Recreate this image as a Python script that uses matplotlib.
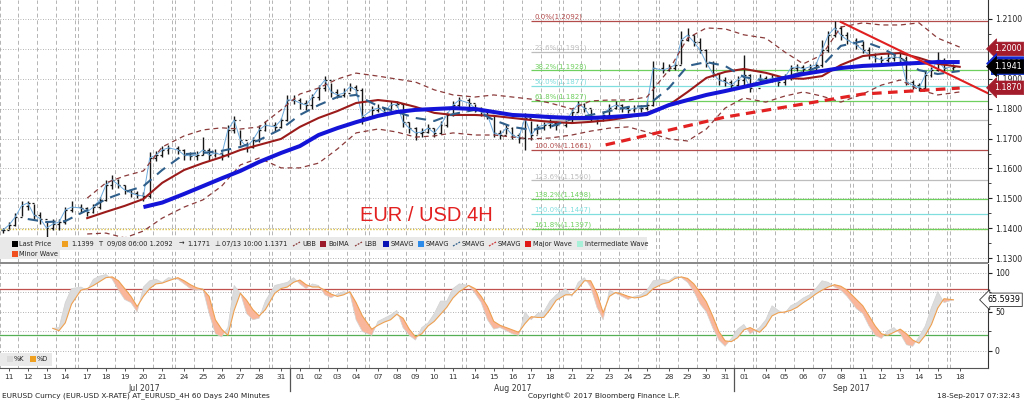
import numpy as np
import pandas as pd
import matplotlib
matplotlib.use('Agg')
import matplotlib.pyplot as plt
from matplotlib.patches import Rectangle
from matplotlib.lines import Line2D
from matplotlib.transforms import blended_transform_factory

W, H = 1024, 401

# trading days on the axis (4H bars, three readings per day)
dates = pd.bdate_range('2017-07-11', '2017-09-18')
day_labels = [d.strftime('%d') for d in dates]
months = ['Jul 2017', 'Aug 2017', 'Sep 2017']

# price readings, 3 per day (last one is the Sunday-open bar of Sep 18)
close = [
    1.1394, 1.1411, 1.1438,  1.1475, 1.1485, 1.1444,  1.1432, 1.1401, 1.1414,  1.1421, 1.1461, 1.1471,
    1.1468, 1.1455, 1.1471,  1.1495, 1.1545, 1.1562,  1.1545, 1.1528, 1.1518,  1.1511, 1.1508, 1.1635,
    1.1645, 1.1662, 1.1669,  1.1662, 1.1645, 1.1642,  1.1645, 1.1662, 1.1645,  1.1652, 1.1645, 1.1729,
    1.1762, 1.1695, 1.1672,  1.1695, 1.1729, 1.1745,  1.1739, 1.1762, 1.1829,  1.1829, 1.1819, 1.1812,
    1.1839, 1.1869, 1.1896,  1.1856, 1.1846, 1.1852,  1.1873, 1.1862, 1.1772,  1.1796, 1.1802, 1.1789,
    1.1812, 1.1816, 1.1756,  1.1735, 1.1719, 1.1722,  1.1735, 1.1719, 1.1745,  1.1779, 1.1812, 1.1829,
    1.1819, 1.1802, 1.1789,  1.1779, 1.1719, 1.1712,  1.1735, 1.1712, 1.1702,  1.1769, 1.1712, 1.1739,
    1.1745, 1.1752, 1.1745,  1.1756, 1.1789, 1.1816,  1.1802, 1.1772, 1.1762,  1.1779, 1.1802, 1.1812,
    1.1802, 1.1796, 1.1802,  1.1802, 1.1812, 1.1936,  1.1929, 1.1936, 1.1946,  1.2030, 1.2046, 1.2023,
    1.1996, 1.1953, 1.1919,  1.1896, 1.1889, 1.1879,  1.1896, 1.1913, 1.1869,  1.1903, 1.1896, 1.1903,
    1.1889, 1.1903, 1.1936,  1.1940, 1.1933, 1.1940,  1.1946, 1.1996, 1.2046,  1.2070, 1.2046, 1.2030,
    1.2013, 1.1996, 1.1980,  1.1970, 1.1963, 1.1970,  1.1973, 1.1970, 1.1889,  1.1879, 1.1869, 1.1913,
    1.1929, 1.1963, 1.1935,  1.1941]
high = [
    1.1400, 1.1420, 1.1450,  1.1490, 1.1492, 1.1480,  1.1455, 1.1425, 1.1430,  1.1430, 1.1470, 1.1490,
    1.1482, 1.1470, 1.1480,  1.1505, 1.1560, 1.1577,  1.1565, 1.1545, 1.1530,  1.1525, 1.1520, 1.1655,
    1.1660, 1.1675, 1.1680,  1.1675, 1.1665, 1.1655,  1.1660, 1.1705, 1.1670,  1.1665, 1.1660, 1.1745,
    1.1777, 1.1730, 1.1690,  1.1705, 1.1745, 1.1760,  1.1755, 1.1770, 1.1845,  1.1845, 1.1835, 1.1830,
    1.1850, 1.1880, 1.1910,  1.1885, 1.1865, 1.1870,  1.1885, 1.1880, 1.1870,  1.1810, 1.1815, 1.1805,
    1.1825, 1.1825, 1.1820,  1.1755, 1.1740, 1.1735,  1.1750, 1.1735, 1.1760,  1.1790, 1.1825, 1.1840,
    1.1835, 1.1815, 1.1805,  1.1795, 1.1780, 1.1730,  1.1750, 1.1740, 1.1720,  1.1785, 1.1760, 1.1750,
    1.1755, 1.1765, 1.1760,  1.1770, 1.1800, 1.1825,  1.1820, 1.1800, 1.1775,  1.1790, 1.1815, 1.1825,
    1.1815, 1.1808, 1.1812,  1.1812, 1.1825, 1.1960,  1.1955, 1.1950, 1.1955,  1.2060, 1.2070, 1.2045,
    1.2035, 1.2000, 1.1960,  1.1920, 1.1905, 1.1895,  1.1910, 1.1980, 1.1915,  1.1915, 1.1910, 1.1915,
    1.1900, 1.1915, 1.1945,  1.1950, 1.1945, 1.1950,  1.1955, 1.2030, 1.2060,  1.2092, 1.2075, 1.2055,
    1.2035, 1.2025, 1.2005,  1.1985, 1.1975, 1.1985,  1.1985, 1.1985, 1.1975,  1.1895, 1.1885, 1.1925,
    1.1940, 1.1988, 1.1970,  1.1950]
low = [
    1.1385, 1.1398, 1.1408,  1.1440, 1.1460, 1.1430,  1.1415, 1.1371, 1.1395,  1.1395, 1.1415, 1.1455,
    1.1455, 1.1440, 1.1450,  1.1465, 1.1490, 1.1530,  1.1535, 1.1515, 1.1505,  1.1500, 1.1490, 1.1500,
    1.1625, 1.1640, 1.1650,  1.1650, 1.1630, 1.1630,  1.1630, 1.1645, 1.1630,  1.1640, 1.1630, 1.1640,
    1.1720, 1.1680, 1.1655,  1.1670, 1.1690, 1.1725,  1.1725, 1.1735, 1.1760,  1.1815, 1.1800, 1.1795,
    1.1800, 1.1830, 1.1860,  1.1840, 1.1835, 1.1840,  1.1860, 1.1850, 1.1750,  1.1770, 1.1790, 1.1780,
    1.1795, 1.1805, 1.1740,  1.1720, 1.1695, 1.1705,  1.1720, 1.1705, 1.1715,  1.1740, 1.1775, 1.1800,
    1.1805, 1.1790, 1.1775,  1.1765, 1.1705, 1.1700,  1.1715, 1.1700, 1.1685,  1.1661, 1.1695, 1.1715,
    1.1730, 1.1735, 1.1730,  1.1740, 1.1755, 1.1790,  1.1790, 1.1760, 1.1750,  1.1760, 1.1775, 1.1800,
    1.1790, 1.1785, 1.1790,  1.1790, 1.1795, 1.1810,  1.1920, 1.1925, 1.1930,  1.1950, 1.2025, 1.2010,
    1.1985, 1.1940, 1.1905,  1.1880, 1.1875, 1.1865,  1.1870, 1.1880, 1.1855,  1.1890, 1.1885, 1.1890,
    1.1875, 1.1880, 1.1895,  1.1925, 1.1920, 1.1928,  1.1930, 1.1940, 1.1990,  1.2040, 1.2030, 1.2015,
    1.2000, 1.1985, 1.1965,  1.1955, 1.1950, 1.1955,  1.1960, 1.1955, 1.1880,  1.1865, 1.1858, 1.1865,
    1.1905, 1.1925, 1.1925,  1.1930]

nan = np.nan
# indicator lines, one reading per day
sma_slow = [nan] * 7 + [
    1.1471, 1.1486, 1.1515, 1.1541, 1.1567, 1.1592, 1.1622, 1.1652, 1.1675, 1.1712, 1.1735, 1.1755,
    1.1776, 1.1789, 1.1796, 1.1799, 1.1802, 1.1799, 1.1789, 1.1779, 1.1776, 1.1772, 1.1769, 1.1769,
    1.1772, 1.1776, 1.1782, 1.1812, 1.1829, 1.1846, 1.1859, 1.1873, 1.1889, 1.1903, 1.1916, 1.1926,
    1.1936, 1.1943, 1.1946, 1.1950, 1.1953, 1.1956, 1.1956]
bol_ma = [nan] * 4 + [
    1.1434, 1.1455, 1.1475, 1.1498, 1.1552, 1.1595, 1.1618, 1.1638, 1.1662, 1.1679, 1.1699, 1.1739,
    1.1769, 1.1792, 1.1819, 1.1829, 1.1822, 1.1806, 1.1786, 1.1779, 1.1779, 1.1776, 1.1769, 1.1762,
    1.1756, 1.1752, 1.1756, 1.1762, 1.1772, 1.1786, 1.1812, 1.1856, 1.1903, 1.1923, 1.1933, 1.1920,
    1.1903, 1.1900, 1.1909, 1.1946, 1.1976, 1.1983, 1.1986, 1.1970, 1.1950, 1.1940]
sma_mid = [nan] + [
    1.1431, 1.1421, 1.1424, 1.1461, 1.1498, 1.1521, 1.1541, 1.1595, 1.1648, 1.1652, 1.1659, 1.1672,
    1.1695, 1.1732, 1.1779, 1.1812, 1.1839, 1.1846, 1.1809, 1.1789, 1.1769, 1.1759, 1.1782, 1.1796,
    1.1762, 1.1739, 1.1729, 1.1739, 1.1766, 1.1779, 1.1792, 1.1806, 1.1809, 1.1869, 1.1943, 1.1956,
    1.1943, 1.1906, 1.1893, 1.1906, 1.1923, 1.1943, 1.2010, 1.2026, 1.2003, 1.1970, 1.1929, 1.1916,
    1.1926]
upper_bb = [nan] * 4 + [
    1.1501, 1.1552, 1.1575, 1.1592, 1.1672, 1.1709, 1.1729, 1.1736, 1.1732, 1.1739, 1.1796, 1.1849,
    1.1869, 1.1899, 1.1919, 1.1909, 1.1899, 1.1889, 1.1863, 1.1846, 1.1839, 1.1846, 1.1839, 1.1832,
    1.1819, 1.1799, 1.1826, 1.1829, 1.1829, 1.1839, 1.1929, 1.2036, 1.2070, 1.2067, 1.2047, 1.2036,
    1.1990, 1.1950, 1.1980, 1.2073, 1.2087, 1.2080, 1.2080, 1.2087, 1.2036, 1.2006]
lower_bb = [nan] * 4 + [
    1.1381, 1.1384, 1.1368, 1.1391, 1.1434, 1.1471, 1.1495, 1.1541, 1.1612, 1.1635, 1.1602, 1.1602,
    1.1618, 1.1665, 1.1719, 1.1732, 1.1722, 1.1705, 1.1709, 1.1719, 1.1712, 1.1712, 1.1705, 1.1699,
    1.1702, 1.1712, 1.1725, 1.1735, 1.1739, 1.1722, 1.1699, 1.1692, 1.1732, 1.1802, 1.1836, 1.1822,
    1.1842, 1.1856, 1.1842, 1.1822, 1.1849, 1.1879, 1.1896, 1.1863, 1.1846, 1.1856]

# wave / trend lines (day index, price)
major_wave = [(31, 1.1679), (37, 1.1772), (44, 1.1849), (49, 1.1869)]
trend_line = [(43, 1.2090), (48, 1.1933)]

# fibonacci retracement, Aug 17 low to Sep 08 high
fib_pct = ['0.0%', '23.6%', '38.2%', '50.0%', '61.8%', '76.4%', '100.0%', '123.6%', '138.2%', '150.0%', '161.8%']
fib_price = [1.2092, 1.1991, 1.1928, 1.1877, 1.1827, 1.1763, 1.1661, 1.1560, 1.1498, 1.1447, 1.1397]
fib_color = ['#b34b4b', '#bdbdbd', '#6fcf5f', '#80dede', '#6fcf5f', '#bdbdbd', '#b34b4b',
             '#bdbdbd', '#6fcf5f', '#80dede', '#6fcf5f']
fib_start_day = 27

# last values shown in the right hand boxes
last_boxes = [(1.2000, '#a21c2c'), (1.1870, '#a21c2c'), (1.1951, '#1428d0'), (1.1941, '#000000')]

# stochastic, 3 readings per day
stoch_d = [nan] * 8 + [
    29, 26, 36, 60, 78, 80, 84, 89, 94, 95, 90, 80, 70, 57, 70, 80, 86, 87, 90, 94, 90, 85,
    81, 79, 70, 40, 28, 20, 52, 74, 65, 53, 45, 53, 74, 80, 82, 88, 91, 85, 82, 82, 78, 73, 70, 72,
    76, 62, 45, 28, 33, 37, 40, 47, 42, 28, 18, 22, 32, 38, 47, 56, 68, 76, 84, 80, 70, 57, 38, 33,
    30, 27, 24, 35, 44, 43, 43, 53, 65, 72, 72, 80, 90, 90, 74, 49, 70, 75, 73, 70, 68, 69, 72, 80,
    86, 88, 93, 95, 93, 86, 75, 63, 45, 25, 13, 12, 17, 27, 30, 24, 32, 45, 49, 50, 52, 56, 62, 67,
    73, 78, 82, 85, 83, 78, 66, 58, 45, 32, 22, 20, 24, 28, 22, 14, 10, 20, 34, 55, 67, 65.5939]
stoch_k = [nan] * 8 + [
    29, 30, 62, 80, 82, 78, 92, 96, 98, 92, 78, 66, 62, 50, 82, 90, 92, 88, 94, 92, 86, 80,
    78, 80, 48, 22, 18, 30, 84, 74, 48, 40, 42, 64, 84, 86, 88, 94, 86, 80, 86, 84, 72, 68, 73, 76,
    74, 40, 25, 20, 38, 42, 46, 52, 30, 20, 14, 30, 36, 48, 64, 64, 80, 86, 84, 74, 62, 40, 28, 30,
    26, 22, 20, 50, 40, 48, 50, 64, 72, 80, 70, 88, 94, 82, 56, 40, 78, 74, 70, 66, 70, 72, 78, 90,
    92, 90, 96, 94, 88, 76, 60, 50, 30, 14, 6, 16, 28, 34, 22, 30, 40, 58, 52, 48, 58, 62, 68, 72,
    80, 90, 88, 82, 78, 70, 54, 48, 32, 20, 16, 26, 30, 22, 8, 6, 18, 32, 56, 76, 62, 65.6]

# ---- x scale: one unit per trading day, small extra gap at weekends
gap = np.r_[0, (np.diff(dates.values).astype('timedelta64[D]').astype(int) > 1).astype(int)]
pos = np.arange(len(dates)) + 0.17 * np.cumsum(gap)
slot = np.array([pos[i // 3] + (i % 3 - 1) / 3 for i in range(len(close))])
close, high, low = np.array(close), np.array(high), np.array(low)
stoch_k, stoch_d = np.array(stoch_k, float), np.array(stoch_d, float)


def fx(px):
    return px / W


def fy(py):
    return 1 - py / H


fig = plt.figure(figsize=(W / 100, H / 100), dpi=100)
ax = fig.add_axes([0, fy(262), fx(988), 262 / H])
ax2 = fig.add_axes([0, fy(368), fx(988), (368 - 264) / H])
x_lo, x_hi = -0.48, 52.21

for a in (ax, ax2):
    a.set_xlim(x_lo, x_hi)
    for s in ('left', 'top'):
        a.spines[s].set_visible(False)
    a.spines['right'].set_color('#333333')
    a.spines['right'].set_linewidth(0.8)
    # day grid, doubled at weekends
    for d in range(len(pos)):
        a.axvline(pos[d] - 0.5, color='#b4b4b4', lw=0.7, dashes=(4, 3), zorder=1)
        if d + 1 < len(pos) and gap[d + 1]:
            a.axvline(pos[d] + 0.5, color='#b4b4b4', lw=0.7, dashes=(4, 3), zorder=1)
ax.spines['bottom'].set_visible(False)
ax2.spines['bottom'].set_color('#555555')

# ---- price panel
ax.set_ylim(1.12873, 1.21635)
for v in np.arange(1.13, 1.2101, 0.01):
    ax.axhline(v, color='#9a9a9a', lw=0.6, ls=(0, (1, 2)), zorder=1)
ax.axhline(1.1399, color='#dcc24a', lw=1.0, ls=(0, (1, 1.2)), zorder=2)

fib_x0 = pos[fib_start_day]
for pct, p, c in zip(fib_pct, fib_price, fib_color):
    ax.hlines(p, fib_x0, x_hi, color=c, lw=0.9, zorder=2)
    ax.text(fib_x0 + 0.15, p + 0.0003, f'{pct}({p:.4f})', color=c, fontsize=5,
            va='bottom', ha='left', zorder=2)

ax.plot(pos, upper_bb, color='#8b3a3a', lw=0.9, dashes=(4, 3), zorder=4)
ax.plot(pos, lower_bb, color='#8b3a3a', lw=0.9, dashes=(4, 3), zorder=4)

opens = np.r_[close[0], close[:-1]]
ax.vlines(slot, low, high, color='#151515', lw=1.0, zorder=3)
ax.hlines(close, slot, slot + 0.1, color='#151515', lw=0.9, zorder=3)
ax.hlines(opens, slot - 0.1, slot, color='#151515', lw=0.9, zorder=3)
ax.plot(slot, close, color='#6aa8dc', lw=0.7, zorder=3.5)

ax.plot(pos, bol_ma, color='#9b1b1b', lw=1.5, zorder=4)
ax.plot(pos, sma_mid, color='#2f5f8a', lw=1.5, dashes=(5, 3.5), zorder=4.5)
ax.plot(pos, sma_slow, color='#1414d8', lw=2.9, zorder=5, solid_capstyle='butt')

mw_x = [pos[d] - (0.2 if d == 31 else 0) for d, _ in major_wave]
ax.plot(mw_x, [p for _, p in major_wave], color='#e22222', lw=2.3, dashes=(3, 2), zorder=6)

(d0, p0), (d1, p1) = trend_line
slope = (p1 - p0) / (pos[d1] - pos[d0])
ax.plot([pos[d0], x_hi], [p0, p0 + slope * (x_hi - pos[d0])], color='#e02020', lw=1.5, zorder=6)

ax.text(360 / 988, (262 - 215) / 262, 'EUR / USD 4H', transform=ax.transAxes, color='#e32020',
        fontsize=14.5, family='Liberation Sans', va='center', ha='left', zorder=7)

ax.yaxis.tick_right()
ax.set_xticks([])
ticks = np.round(np.arange(1.13, 1.2101, 0.01), 2)
ax.set_yticks(ticks)
ax.set_yticklabels([f'{t:.4f}' for t in ticks])
ax.set_yticks(np.round(np.arange(1.135, 1.21, 0.01), 3), minor=True)
ax.tick_params(axis='y', which='major', length=3, width=0.8, labelsize=5.6, pad=2, colors='#222222')
ax.tick_params(axis='y', which='minor', length=2, width=0.6, colors='#222222')

# right hand value boxes; a second blue box sits mostly hidden under the black one
tr = blended_transform_factory(ax.transAxes, ax.transData)
ax.add_patch(Rectangle((1.003, 1.1914), 0.034, 0.0022, transform=tr, fc='#1e3cc8', ec='none',
                       zorder=7, clip_on=False))
for z, (val, fc) in enumerate(last_boxes):
    ax.text(1.006, val, f'{val:.4f}', transform=tr, fontsize=5.8, color='white', va='center',
            ha='left', zorder=8 + z, clip_on=False,
            bbox=dict(boxstyle='larrow,pad=0.28', fc=fc, ec=fc, lw=0.5))

# ---- stochastic panel
ax2.set_ylim(-21.8, 111.5)
for v in (0, 25, 50, 75, 100):
    ax2.axhline(v, color='#9a9a9a', lw=0.6, ls=(0, (1, 2)), zorder=1)
ax2.axhline(80, color='#c0504d', lw=0.9, zorder=2)
ax2.axhline(20, color='#55b055', lw=0.9, zorder=2)
ax2.fill_between(slot, stoch_k, stoch_d, where=stoch_k >= stoch_d, interpolate=True,
                 color='#dcdcdc', lw=0, zorder=2.5)
ax2.fill_between(slot, stoch_k, stoch_d, where=stoch_k < stoch_d, interpolate=True,
                 color='#f9b69a', lw=0, zorder=2.5)
ax2.plot(slot, stoch_k, color='#d2d2d2', lw=0.5, zorder=3)
ax2.plot(slot, stoch_d, color='#eea050', lw=0.8, zorder=3.5)

ax2.yaxis.tick_right()
ax2.set_yticks([0, 50, 100])
ax2.set_yticks([25, 75], minor=True)
ax2.tick_params(axis='y', which='major', length=3, width=0.8, labelsize=5.6, pad=2, colors='#222222')
ax2.tick_params(axis='y', which='minor', length=2, width=0.6, colors='#222222')
ax2.set_xticks(pos)
ax2.set_xticklabels(day_labels)
ax2.tick_params(axis='x', length=2, width=0.6, labelsize=5.4, pad=2, colors='#333333')

tr2 = blended_transform_factory(ax2.transAxes, ax2.transData)
ax2.text(0.999, stoch_d[-1], f'{stoch_d[-1]:.4f}', transform=tr2, fontsize=5.8, color='black',
         va='center', ha='left', zorder=9, clip_on=False,
         bbox=dict(boxstyle='larrow,pad=0.28', fc='white', ec='#333333', lw=0.6))

# month labels and separators
trx = blended_transform_factory(ax2.transData, ax2.transAxes)
for m, name in enumerate(months):
    sel = dates.month == 7 + m
    ax2.text(pos[sel].mean(), -0.155, name, transform=trx, fontsize=5.6, color='#333333',
             ha='center', va='top')
    if m > 0:
        xb = pos[np.argmax(sel)] - 0.5
        ax2.plot([xb, xb], [0, -0.22], transform=trx, color='#555555', lw=0.9, clip_on=False)

# ---- panel separator and legends
fig.add_artist(Rectangle((0, fy(264)), fx(988), 2.5 / H, transform=fig.transFigure,
                         fc='#8a8a8a', ec='none', zorder=5))
fig.add_artist(Rectangle((0, fy(250)), fx(647), 13 / H, transform=fig.transFigure,
                         fc='#e9e9e9', ec='none', zorder=5))
fig.add_artist(Rectangle((0, fy(259)), fx(60), 9 / H, transform=fig.transFigure,
                         fc='#e9e9e9', ec='none', zorder=5))
fig.add_artist(Rectangle((0, fy(366)), fx(52), 13 / H, transform=fig.transFigure,
                         fc='#e9e9e9', ec='none', zorder=5))


def leg_square(px, py, color):
    fig.add_artist(Rectangle((fx(px), fy(py + 3)), 6 / W, 6 / H, transform=fig.transFigure,
                             fc=color, ec='none', zorder=6))


def leg_dash(px, py, color):
    fig.add_artist(Line2D([fx(px), fx(px + 7)], [fy(py + 2), fy(py - 2)], transform=fig.transFigure,
                          color=color, lw=0.9, dashes=(1.5, 1), zorder=6))


def leg_text(px, py, s):
    fig.text(fx(px), fy(py), s, fontsize=4.8, color='#222222', va='center', ha='left', zorder=6)


row = 244
leg_square(12, row, '#000000'); leg_text(19, row, 'Last Price')
leg_square(62, row, '#f0a020'); leg_text(71, row, '1.1399')
leg_text(99, row, 'T'); leg_text(107, row, '09/08 06:00 1.2092')
leg_text(179, row, '→'); leg_text(187, row, '1.1771')
leg_text(214, row, '⊥'); leg_text(222, row, '07/13 10:00 1.1371')
leg_dash(293, row, '#8b3a3a'); leg_text(302, row, 'UBB')
leg_square(320, row, '#9b1b2b'); leg_text(328, row, 'BolMA')
leg_dash(355, row, '#8b3a3a'); leg_text(364, row, 'LBB')
leg_square(383, row, '#0a14b4'); leg_text(391, row, 'SMAVG')
leg_square(418, row, '#2c8ae8'); leg_text(426, row, 'SMAVG')
leg_dash(453, row, '#2f5f8a'); leg_text(462, row, 'SMAVG')
leg_dash(489, row, '#d03030'); leg_text(498, row, 'SMAVG')
leg_square(525, row, '#e01818'); leg_text(533, row, 'Major Wave')
leg_square(577, row, '#a8f0d8'); leg_text(585, row, 'Intermediate Wave')
leg_square(12, 254, '#f05020'); leg_text(19, 254, 'Minor Wave')

leg_square(7, 359, '#dadada'); leg_text(14, 359, '%K')
leg_square(30, 359, '#f0a020'); leg_text(37, 359, '%D')

# ---- footer
fig.text(fx(2), fy(396), 'EURUSD Curncy (EUR-USD X-RATE) AT_EURUSD_4H 60 Days 240 Minutes',
         fontsize=5.3, color='#222222', va='center', ha='left')
fig.text(fx(528), fy(396), 'Copyright© 2017 Bloomberg Finance L.P.', fontsize=5.3,
         color='#222222', va='center', ha='left')
fig.text(fx(1020), fy(396), '18-Sep-2017 07:32:43', fontsize=5.3, color='#222222',
         va='center', ha='right')

fig.savefig('out.png', dpi=100)
